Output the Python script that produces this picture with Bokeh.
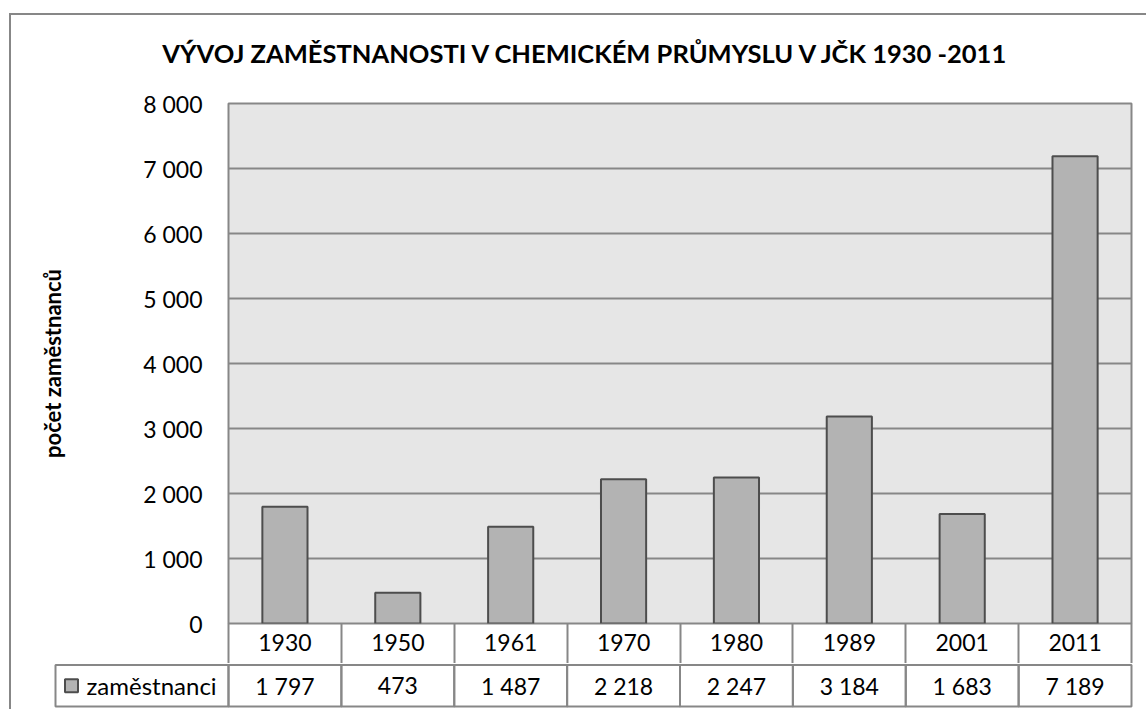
from bokeh.plotting import figure
from bokeh.models import Range1d, FixedTicker, ColumnDataSource, CustomJSTickFormatter
from bokeh.layouts import column
from bokeh.embed import file_html
from bokeh.resources import INLINE
from bokeh.core.properties import value

# ---------------- data ----------------
years = ["1930", "1950", "1961", "1970", "1980", "1989", "2001", "2011"]
employees = [1797, 473, 1487, 2218, 2247, 3184, 1683, 7189]
y_ticks = [0, 1000, 2000, 3000, 4000, 5000, 6000, 7000, 8000]
title_text = "VÝVOJ ZAMĚSTNANOSTI V CHEMICKÉM PRŮMYSLU V JČK 1930 -2011"
y_label = "počet zaměstnanců"
series_name = "zaměstnanci"


def fmt(v):
    return f"{v:,}".replace(",", " ")


# ---------------- style / layout (page pixels) ----------------
FONT = "Lato"
LINE = "#878787"
BAR_FILL = "#B3B3B3"
BAR_LINE = "#4D4D4D"
PLOT_BG = "#E6E6E6"

BORDER_X, BORDER_Y, BORDER_W = 9, 13, 2
OX, OY = BORDER_X + BORDER_W, BORDER_Y + BORDER_W   # canvas origin on the page
W = 1135
PLOT_L, PLOT_R, PLOT_T, PLOT_B = 228, 1131, 103, 623
TAB_L = 55
ROW_H = 41.5
TITLE_CX, TITLE_CY = 586, 52
A_TOP_PAD = 16          # white space kept above the plot area in the chart canvas
YEAR_ROW_PX = 40        # year row drawn by the chart's own bottom axis
YEAR_LABEL_TOP = 10     # distance of the year labels' box below the plot area

n = len(years)
col_px = (PLOT_R - PLOT_L) / n
y_max = y_ticks[-1]
xs = [i + 0.5 for i in range(n)]

# ---------------- title strip ----------------
hC = PLOT_T - A_TOP_PAD - OY
pC = figure(width=W, height=hC, x_range=Range1d(OX, OX + W), y_range=Range1d(OY + hC, OY),
            x_axis_location=None, y_axis_location=None,
            output_backend="svg", toolbar_location=None,
            min_border_left=0, min_border_right=0, min_border_top=0, min_border_bottom=0)
pC.frame_align = False
pC.grid.visible = False
pC.outline_line_color = None
pC.background_fill_color = "white"
pC.border_fill_color = "white"
pC.text(x=[TITLE_CX], y=[TITLE_CY], text=[title_text], text_align="center",
        text_baseline="middle", text_font=value(FONT), text_font_style="bold",
        text_font_size="25.5px", text_color="#000000")

# ---------------- main chart (with year row as its bottom axis) ----------------
pA = figure(width=W, height=A_TOP_PAD + (PLOT_B - PLOT_T) + YEAR_ROW_PX,
            x_range=Range1d(0, n), y_range=Range1d(0, y_max),
            output_backend="svg", toolbar_location=None,
            min_border_left=PLOT_L - OX, min_border_right=OX + W - PLOT_R,
            min_border_top=A_TOP_PAD, min_border_bottom=YEAR_ROW_PX)
pA.frame_align = False
pA.background_fill_color = PLOT_BG
pA.border_fill_color = "white"
pA.outline_line_color = LINE
pA.outline_line_width = 2

pA.xgrid.visible = False
pA.ygrid.ticker = FixedTicker(ticks=y_ticks[1:-1])
pA.ygrid.grid_line_color = LINE
pA.ygrid.grid_line_width = 2

ay = pA.yaxis[0]
ay.ticker = FixedTicker(ticks=y_ticks)
ay.major_label_overrides = {t: fmt(t) for t in y_ticks}
ay.axis_line_color = None
ay.major_tick_line_color = None
ay.minor_tick_line_color = None
ay.major_tick_out = 0
ay.major_tick_in = 0
ay.minor_tick_out = 0
ay.minor_tick_in = 0
ay.major_label_standoff = 26
ay.major_label_text_font = FONT
ay.major_label_text_font_size = "23px"
ay.major_label_text_color = "#000000"
ay.axis_label = y_label
ay.axis_label_text_font = FONT
ay.axis_label_text_font_style = "bold"
ay.axis_label_text_font_size = "22px"
ay.axis_label_text_color = "#000000"
ay.axis_label_standoff = 74

axx = pA.xaxis[0]
axx.ticker = FixedTicker(ticks=xs, minor_ticks=list(range(n + 1)))
axx.formatter = CustomJSTickFormatter(args=dict(labels=years),
                                      code="return labels[Math.floor(tick)];")
axx.axis_line_color = None
axx.major_tick_line_color = None
axx.major_tick_in = 0
axx.major_tick_out = 0
axx.minor_tick_line_color = LINE
axx.minor_tick_line_width = 2
axx.minor_tick_in = 0
axx.minor_tick_out = YEAR_ROW_PX
# labels are placed after the tick extent; pull them back up into the year row
axx.major_label_standoff = YEAR_LABEL_TOP - YEAR_ROW_PX
axx.major_label_text_font = FONT
axx.major_label_text_font_size = "23px"
axx.major_label_text_color = "#000000"

src = ColumnDataSource(dict(x=xs, top=employees))
pA.vbar(x="x", top="top", width=0.4, source=src,
        fill_color=BAR_FILL, line_color=BAR_LINE, line_width=2)

# ---------------- data table: value row + legend key ----------------
pad = 2
row_top = PLOT_B + YEAR_ROW_PX                     # page y where this canvas begins
div_y = PLOT_B + ROW_H                              # row divider
frame_bottom = PLOT_B + 2 * ROW_H + pad
pB = figure(width=W, height=int(round(frame_bottom - row_top)) + 1,
            x_range=Range1d(-(PLOT_L - TAB_L + pad) / col_px, n + pad / col_px),
            y_range=Range1d(-pad / ROW_H, 1 + (div_y - row_top) / ROW_H),
            x_axis_location=None, y_axis_location=None,
            output_backend="svg", toolbar_location=None,
            min_border_left=TAB_L - pad - OX, min_border_right=OX + W - PLOT_R - pad,
            min_border_top=0, min_border_bottom=1)
pB.frame_align = False
pB.grid.visible = False
pB.outline_line_color = None
pB.background_fill_color = "white"
pB.border_fill_color = "white"

leg_x0 = -(PLOT_L - TAB_L) / col_px
cells = ColumnDataSource(dict(
    left=[i for i in range(n)] + [leg_x0],
    right=[i + 1 for i in range(n)] + [0],
    bottom=[0] * (n + 1),
    top=[1] * (n + 1),
))
pB.quad(left="left", right="right", bottom="bottom", top="top", source=cells,
        fill_color=None, line_color=LINE, line_width=2)

pB.text(x=xs, y=[0.5] * n, text=[fmt(v) for v in employees], text_align="center",
        text_baseline="middle", text_font=value(FONT), text_font_size="23px",
        text_color="#000000")

pB.scatter(x=[leg_x0 + 16 / col_px], y=[0.5], marker="square", size=13,
           fill_color=BAR_FILL, line_color=BAR_LINE, line_width=2)
pB.text(x=[leg_x0 + 31 / col_px], y=[0.5], text=[series_name], text_align="left",
        text_baseline="middle", text_font=value(FONT), text_font_size="24px",
        text_color="#000000")

layout = column(pC, pA, pB, spacing=0, margin=(BORDER_Y, 0, 0, BORDER_X),
                styles={"border-left": f"{BORDER_W}px solid {LINE}",
                        "border-top": f"{BORDER_W}px solid {LINE}"})

open("out.html", "w").write(file_html(layout, INLINE))
